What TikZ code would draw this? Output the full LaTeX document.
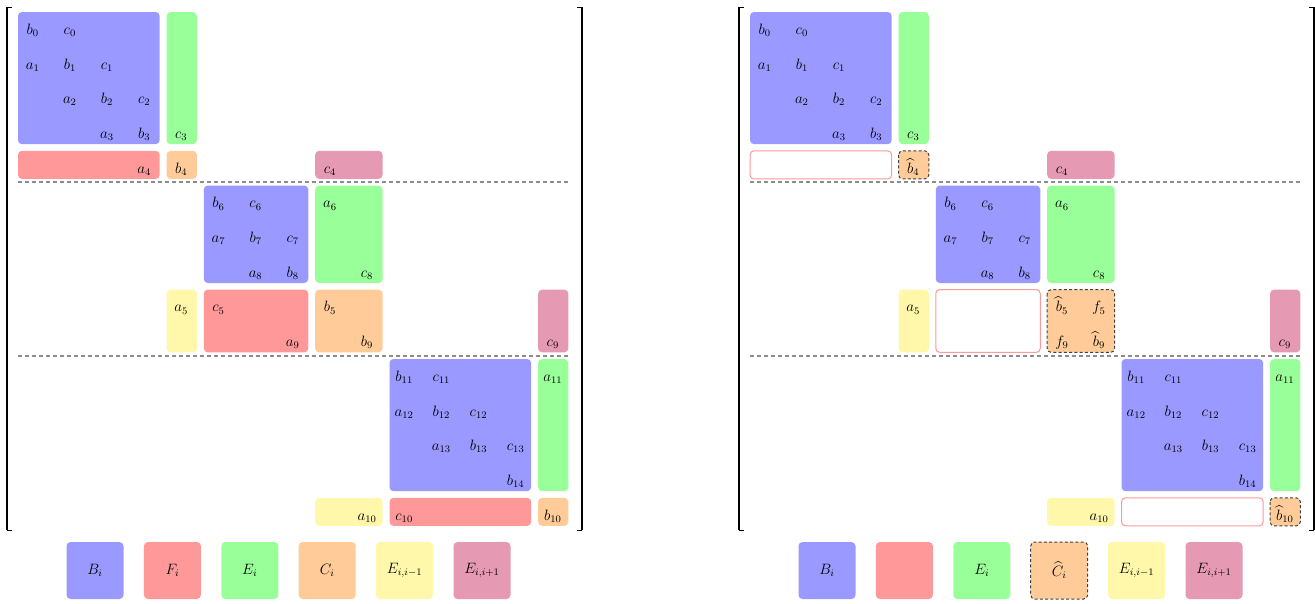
\documentclass[tikz,border=0pt]{standalone}
\usepackage{amsmath}
\definecolor{cB}{rgb}{0.6,0.6,1}
\definecolor{cF}{rgb}{1,0.6,0.6}
\definecolor{cE}{rgb}{0.6,1,0.6}
\definecolor{cC}{rgb}{1,0.8,0.6}
\definecolor{cL}{RGB}{255,248,170}
\definecolor{cU}{rgb}{0.9,0.6,0.7}
\tikzset{
  every node/.style={font=\fontsize{11.8}{14}\selectfont},
  blk/.style={rounded corners=3.2pt},
  blkB/.style={blk, fill=cB},
  blkF/.style={blk, fill=cF},
  blkE/.style={blk, fill=cE},
  blkC/.style={blk, fill=cC},
  blkL/.style={blk, fill=cL},
  blkU/.style={blk, fill=cU},
  blkFo/.style={blk, fill=white, draw=cF, line width=0.8pt},
  blkCd/.style={blk, fill=cC, draw=black!75, line width=0.8pt, dash pattern=on 2.4pt off 1.8pt},
  sep/.style={draw=black!45, line width=1.6pt, dash pattern=on 3.2pt off 2.4pt},
  ent/.style={anchor=base, inner sep=0pt},
  leg/.style={minimum width=45.6pt, minimum height=45.6pt, inner sep=0pt, rounded corners=3.2pt},
  brk/.style={line width=1.6pt},
  hook/.style={line width=0.8pt},
}
% a block covering columns #2..#3 and rows #4..#5 of the 15x15 grid
\newcommand\blk[5]{\path[#1] ({32.7+37.15*(#2)-14.7},{34.3+34.7*(#4)-22.3}) rectangle ({32.7+37.15*(#3)+15.5},{34.3+34.7*(#5)+5.8});}
% matrix brackets and row separators
\newcommand\frameparts{%
  \draw[brk] (7.3,7) -- (7.3,530);
  \draw[hook] (6.5,7) -- (12,7);
  \draw[hook] (6.5,530) -- (12,530);
  \draw[brk] (581.5,7) -- (581.5,530);
  \draw[hook] (577,7) -- (582.3,7);
  \draw[hook] (577,530) -- (582.3,530);
  \draw[sep] (18,182.2) -- (570,182.2);
  \draw[sep] (18,355.7) -- (570,355.7);
}
\begin{document}
\begin{tikzpicture}[x=0.8pt, y=-0.8pt]
\useasboundingbox (0,0) rectangle (1315,603);

% ---------- original ordering ----------
\begin{scope}
  \frameparts
  \blk{blkB}{0}{3}{0}{3}
  \blk{blkE}{4}{4}{0}{3}
  \blk{blkF}{0}{3}{4}{4}
  \blk{blkC}{4}{4}{4}{4}
  \blk{blkU}{8}{9}{4}{4}
  \blk{blkB}{5}{7}{5}{7}
  \blk{blkE}{8}{9}{5}{7}
  \blk{blkL}{4}{4}{8}{9}
  \blk{blkF}{5}{7}{8}{9}
  \blk{blkC}{8}{9}{8}{9}
  \blk{blkU}{14}{14}{8}{9}
  \blk{blkB}{10}{13}{10}{13}
  \blk{blkE}{14}{14}{10}{13}
  \blk{blkL}{8}{9}{14}{14}
  \blk{blkF}{10}{13}{14}{14}
  \blk{blkC}{14}{14}{14}{14}
  \foreach \c/\r/\t in {0/0/b_0, 1/0/c_0,
      0/1/a_1, 1/1/b_1, 2/1/c_1,
      1/2/a_2, 2/2/b_2, 3/2/c_2,
      2/3/a_3, 3/3/b_3, 4/3/c_3,
      3/4/a_4, 4/4/b_4, 8/4/c_4,
      5/5/b_6, 6/5/c_6, 8/5/a_6,
      5/6/a_7, 6/6/b_7, 7/6/c_7,
      6/7/a_8, 7/7/b_8, 9/7/c_8,
      4/8/a_5, 5/8/c_5, 8/8/b_5,
      7/9/a_9, 9/9/b_9, 14/9/c_9,
      10/10/b_{11}, 11/10/c_{11}, 14/10/a_{11},
      10/11/a_{12}, 11/11/b_{12}, 12/11/c_{12},
      11/12/a_{13}, 12/12/b_{13}, 13/12/c_{13},
      13/13/b_{14},
      9/14/a_{10}, 10/14/c_{10}, 14/14/b_{10}}
    \node[ent] (L\c-\r) at ({32.7+37.15*\c},{34.3+34.7*\r}) {$\t$};
  \node[leg, fill=cB] (LkB) at (95,570.5) {$B_i$};
  \node[leg, fill=cF] (LkF) at (172.4,570.5) {$F_i$};
  \node[leg, fill=cE] (LkE) at (249.8,570.5) {$E_i$};
  \node[leg, fill=cC] (LkC) at (327.2,570.5) {$C_i$};
  \node[leg, fill=cL] (LkL) at (404.6,570.5) {$E_{i,i-1}$};
  \node[leg, fill=cU] (LkU) at (482,570.5) {$E_{i,i+1}$};
\end{scope}

% ---------- after elimination ----------
\begin{scope}[xshift=585.6pt]
  \frameparts
  \blk{blkB}{0}{3}{0}{3}
  \blk{blkE}{4}{4}{0}{3}
  \blk{blkFo}{0}{3}{4}{4}
  \blk{blkCd}{4}{4}{4}{4}
  \blk{blkU}{8}{9}{4}{4}
  \blk{blkB}{5}{7}{5}{7}
  \blk{blkE}{8}{9}{5}{7}
  \blk{blkL}{4}{4}{8}{9}
  \blk{blkFo}{5}{7}{8}{9}
  \blk{blkCd}{8}{9}{8}{9}
  \blk{blkU}{14}{14}{8}{9}
  \blk{blkB}{10}{13}{10}{13}
  \blk{blkE}{14}{14}{10}{13}
  \blk{blkL}{8}{9}{14}{14}
  \blk{blkFo}{10}{13}{14}{14}
  \blk{blkCd}{14}{14}{14}{14}
  \foreach \c/\r/\t in {0/0/b_0, 1/0/c_0,
      0/1/a_1, 1/1/b_1, 2/1/c_1,
      1/2/a_2, 2/2/b_2, 3/2/c_2,
      2/3/a_3, 3/3/b_3, 4/3/c_3,
      4/4/\widehat{b}_4, 8/4/c_4,
      5/5/b_6, 6/5/c_6, 8/5/a_6,
      5/6/a_7, 6/6/b_7, 7/6/c_7,
      6/7/a_8, 7/7/b_8, 9/7/c_8,
      4/8/a_5, 8/8/\widehat{b}_5, 9/8/f_5,
      8/9/f_9, 9/9/\widehat{b}_9, 14/9/c_9,
      10/10/b_{11}, 11/10/c_{11}, 14/10/a_{11},
      10/11/a_{12}, 11/11/b_{12}, 12/11/c_{12},
      11/12/a_{13}, 12/12/b_{13}, 13/12/c_{13},
      13/13/b_{14},
      9/14/a_{10}, 14/14/\widehat{b}_{10}}
    \node[ent] (R\c-\r) at ({32.7+37.15*\c},{34.3+34.7*\r}) {$\t$};
  \node[leg, fill=cB] (RkB) at (95,570.5) {$B_i$};
  \node[leg, fill=cF] (RkF) at (172.4,570.5) {};
  \node[leg, fill=cE] (RkE) at (249.8,570.5) {$E_i$};
  \node[leg, fill=cC, draw=black!75, line width=0.8pt, dash pattern=on 2.4pt off 1.8pt] (RkC) at (327.2,570.5) {$\widehat{C}_i$};
  \node[leg, fill=cL] (RkL) at (404.6,570.5) {$E_{i,i-1}$};
  \node[leg, fill=cU] (RkU) at (482,570.5) {$E_{i,i+1}$};
\end{scope}
\end{tikzpicture}
\end{document}
